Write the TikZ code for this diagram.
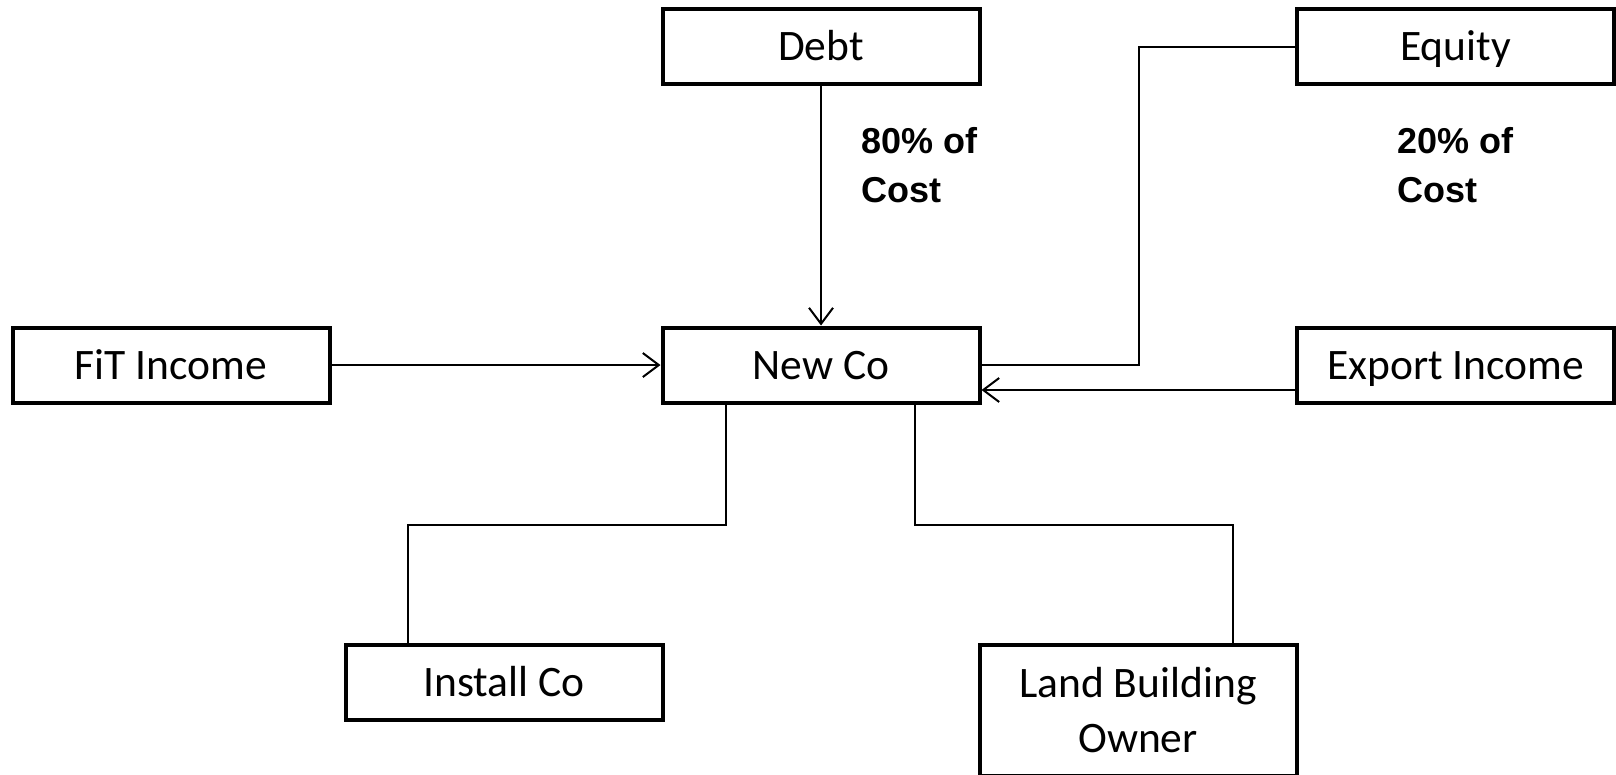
\documentclass[tikz,border=0pt]{standalone}
\usepackage{fontspec}
\setmainfont{Carlito}
\newfontfamily\lblfont{Liberation Sans}
\usetikzlibrary{arrows.meta}
\begin{document}
\begin{tikzpicture}[x=1pt,y=-1pt,
  boxbase/.style={draw, line width=4pt, minimum width=317pt, inner sep=0pt,
    font=\fontsize{43.5pt}{55pt}\selectfont},
  box/.style={boxbase, minimum height=75pt, text height=28pt, text depth=0pt},
  conn/.style={line width=2pt},
  arr/.style={conn, -{Straight Barb[length=16pt,width=24pt]}},
  lbl/.style={anchor=base west, inner sep=0pt,
    font=\lblfont\bfseries\fontsize{36pt}{49pt}\selectfont}]
\useasboundingbox (0,0) rectangle (1616,774);
\node[box] (debt) at (821,46.5) {Debt};
\node[box] (equity) at (1455.5,46.5) {Equity};
\node[box] (fit) at (171,365) {FiT Income};
\node[box] (newco) at (821,365) {New Co};
\node[box] (export) at (1455.5,365) {Export Income};
\node[box] (install) at (504,682) {Install Co};
\node[boxbase, minimum height=130.5pt, align=center] (land) at (1138,710.25) {Land Building\\Owner};
\node[lbl] (l80a) at (861,153) {80\% of};
\node[lbl] (l80b) at (861,202) {Cost};
\node[lbl] (l20a) at (1397,153) {20\% of};
\node[lbl] (l20b) at (1397,202) {Cost};
\draw[arr] (debt.south) -- (newco.north);
\draw[arr] (fit.east) -- (newco.west);
\coordinate (eqbend) at (1139,46.5);
\draw[conn] (equity.west) -- (eqbend) |- (newco.east);
\draw[arr] ([yshift=-25pt]export.west) -- ([yshift=-25pt]newco.east);
\coordinate (jl) at (726,525);
\coordinate (jr) at (915,525);
\draw[conn] ([xshift=-95pt]newco.south) -- (jl) -| ([xshift=-96pt]install.north);
\draw[conn] ([xshift=94pt]newco.south) -- (jr) -| ([xshift=94.5pt]land.north);
\end{tikzpicture}
\end{document}
